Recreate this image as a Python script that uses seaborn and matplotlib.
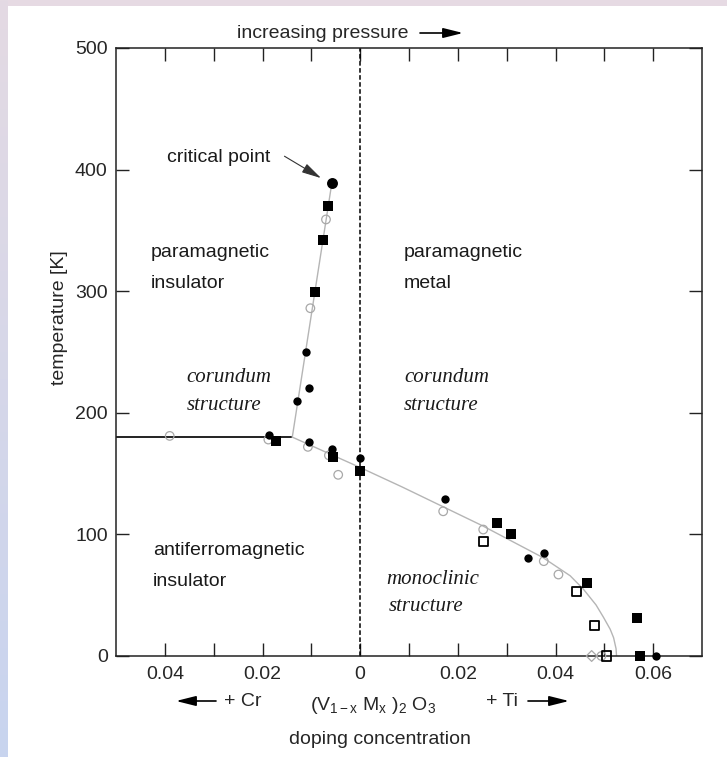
import numpy as np
import pandas as pd
import matplotlib
matplotlib.use("Agg")
import matplotlib.pyplot as plt
import seaborn as sns

# data (x < 0: Cr doping, x > 0: Ti doping)
circ_x = [-0.0110, -0.0104, -0.0130, -0.0187, -0.0104, -0.0058, 0.0, 0.0174, 0.0344, 0.0376, 0.0573, 0.0606]
circ_y = [250, 220, 210, 182, 176, 170, 163, 129, 81, 85, 0, 0]
crit_x = [-0.0058]
crit_y = [389]
sq_x = [-0.0066, -0.0077, -0.0092, -0.0172, -0.0056, 0.0, 0.0281, 0.0308, 0.0464, 0.0567, 0.0573]
sq_y = [370, 342, 299, 177, 164, 152, 109, 100, 60, 31, 0]
ocirc_x = [-0.0070, -0.0102, -0.0390, -0.0188, -0.0107, -0.0064, -0.0045, 0.0170, 0.0252, 0.0376, 0.0406, 0.0494]
ocirc_y = [359, 286, 181, 178, 172, 165, 149, 119, 104, 78, 67, 0]
osq_x = [0.0252, 0.0443, 0.0480, 0.0505]
osq_y = [94, 53, 25, 0]
odia_x = [0.0474]
odia_y = [0]

# phase boundaries
mit_x = [-0.0139, -0.0058]
mit_y = [180, 389]
af_x = [-0.05, -0.0139]
af_y = [180, 180]
mono_x = [-0.0139, 0.0, 0.0086, 0.0251, 0.0374, 0.0430, 0.0457, 0.0483, 0.0498, 0.0512, 0.0519, 0.0524, 0.0525]
mono_y = [180, 155, 139, 107, 81, 66, 55, 42, 32, 22, 15, 6, 0]

xticks = [-0.04, -0.03, -0.02, -0.01, 0.0, 0.01, 0.02, 0.03, 0.04, 0.05, 0.06]
xticklabels = ["0.04", "", "0.02", "", "0", "", "0.02", "", "0.04", "", "0.06"]
yticks = [0, 100, 200, 300, 400, 500]

sns.set_style("ticks")
plt.rcParams["font.family"] = ["Liberation Sans", "DejaVu Sans"]
plt.rcParams["mathtext.fontset"] = "custom"
plt.rcParams["mathtext.rm"] = "Liberation Sans"
plt.rcParams["mathtext.it"] = "Liberation Sans:italic"

W, H = 727, 757
fig = plt.figure(figsize=(W / 100, H / 100), dpi=100)
fig.patch.set_facecolor("white")

# coloured border strips of the original screenshot
top = fig.add_axes([0, 1 - 6 / H, 1, 6 / H])
top.set_axis_off()
top.add_patch(plt.Rectangle((0, 0), 1, 1, color="#e6dae3", transform=top.transAxes))
left = fig.add_axes([0, 0, 8 / W, 1])
grad = np.linspace(0, 1, 256).reshape(-1, 1)
cmap = matplotlib.colors.LinearSegmentedColormap.from_list("bg", ["#c8d4ef", "#e4dae3"])
left.imshow(grad, aspect="auto", cmap=cmap, origin="lower", extent=[0, 1, 0, 1])
left.set_axis_off()

ax = fig.add_axes([116 / W, 1 - 656 / H, (702 - 116) / W, (656 - 48) / H])

# boundaries
sns.lineplot(x=af_x, y=af_y, sort=False, estimator=None, color="#222222", lw=1.4, ax=ax)
sns.lineplot(x=mit_x, y=mit_y, sort=False, estimator=None, color="#b5b5b5", lw=1.0, ax=ax)
sns.lineplot(x=mono_x, y=mono_y, sort=False, estimator=None, color="#b5b5b5", lw=1.0, ax=ax)
ax.axvline(0, color="black", lw=1.1, ls=(0, (3, 1.6)), zorder=2)

# data points
sns.scatterplot(x=ocirc_x, y=ocirc_y, marker="o", s=38, facecolor="none", edgecolor="#a8a8a8",
                linewidth=0.9, ax=ax, clip_on=False, zorder=3)
sns.scatterplot(x=odia_x, y=odia_y, marker="D", s=30, facecolor="none", edgecolor="#a8a8a8",
                linewidth=0.9, ax=ax, clip_on=False, zorder=3)
sns.scatterplot(x=osq_x, y=osq_y, marker="s", s=45, facecolor="none", edgecolor="black",
                linewidth=1.3, ax=ax, clip_on=False, zorder=4)
sns.scatterplot(x=sq_x, y=sq_y, marker="s", s=58, color="black", edgecolor="black",
                linewidth=0, ax=ax, clip_on=False, zorder=4)
sns.scatterplot(x=circ_x, y=circ_y, marker="o", s=36, color="black", edgecolor="black",
                linewidth=0, ax=ax, clip_on=False, zorder=4)
sns.scatterplot(x=crit_x, y=crit_y, marker="o", s=62, color="black", edgecolor="black",
                linewidth=0, ax=ax, clip_on=False, zorder=4)

ax.set_xlim(-0.05, 0.07)
ax.set_ylim(0, 500)
ax.set_xticks(xticks)
ax.set_xticklabels(xticklabels)
ax.set_yticks(yticks)
ax.tick_params(direction="in", length=9.5, width=1.0, top=True, right=True,
               labelsize=14, pad=6, color="#222222")
ax.tick_params(axis="x", pad=7)
for sp in ax.spines.values():
    sp.set_linewidth(1.1)
    sp.set_color("#222222")
ax.set_xlabel("")
ax.set_ylabel("")

# region labels
sans = dict(fontsize=14, va="center", ha="left", color="#1a1a1a")
serif = dict(fontsize=15, va="center", ha="left", color="#1a1a1a", family="Liberation Serif", style="italic")
ax.text(-0.0428, 332, "paramagnetic", **sans)
ax.text(-0.0428, 306, "insulator", **sans)
ax.text(0.0090, 332, "paramagnetic", **sans)
ax.text(0.0090, 306, "metal", **sans)
ax.text(-0.0356, 229, "corundum", **serif)
ax.text(-0.0356, 206, "structure", **serif)
ax.text(0.0090, 229, "corundum", **serif)
ax.text(0.0090, 206, "structure", **serif)
ax.text(-0.0424, 87, "antiferromagnetic", **sans)
ax.text(-0.0424, 61, "insulator", **sans)
ax.text(0.0053, 63, "monoclinic", **serif)
ax.text(0.0058, 41, "structure", **serif)

ax.text(-0.0395, 410, "critical point", **sans)
ax.annotate("", xy=(-0.0080, 393), xytext=(-0.0155, 411),
            arrowprops=dict(arrowstyle="-|>,head_length=1.2,head_width=0.3", color="#333333", lw=0.8,
                            shrinkA=0, shrinkB=0))

# outer labels
fig.text(60 / W, 1 - 318 / H, "temperature [K]", rotation=90, fontsize=14, ha="center", va="center")
fig.text(237 / W, 1 - 33 / H, "increasing pressure", fontsize=14, ha="left", va="center")
arrow = dict(arrowstyle="-|>,head_length=1.2,head_width=0.3", color="black", lw=1.2,
             shrinkA=0, shrinkB=0, mutation_scale=10)
fig.add_artist(matplotlib.patches.FancyArrowPatch((420 / W, 1 - 33 / H), (463 / W, 1 - 33 / H),
                                                  transform=fig.transFigure, **arrow))
fig.text(243 / W, 1 - 701 / H, "+ Cr", fontsize=14, ha="center", va="center")
fig.add_artist(matplotlib.patches.FancyArrowPatch((216 / W, 1 - 701 / H), (176 / W, 1 - 701 / H),
                                                  transform=fig.transFigure, **arrow))
fig.text(373 / W, 1 - 705 / H, r"(V$_{\mathrm{1-x}}$ M$_{\mathrm{x}}$ )$_{\mathrm{2}}$ O$_{\mathrm{3}}$",
         fontsize=14, ha="center", va="center")
fig.text(502 / W, 1 - 701 / H, "+ Ti", fontsize=14, ha="center", va="center")
fig.add_artist(matplotlib.patches.FancyArrowPatch((528 / W, 1 - 701 / H), (569 / W, 1 - 701 / H),
                                                  transform=fig.transFigure, **arrow))
fig.text(380 / W, 1 - 740 / H, "doping concentration", fontsize=14, ha="center", va="center")

fig.savefig("out.png", dpi=100)
